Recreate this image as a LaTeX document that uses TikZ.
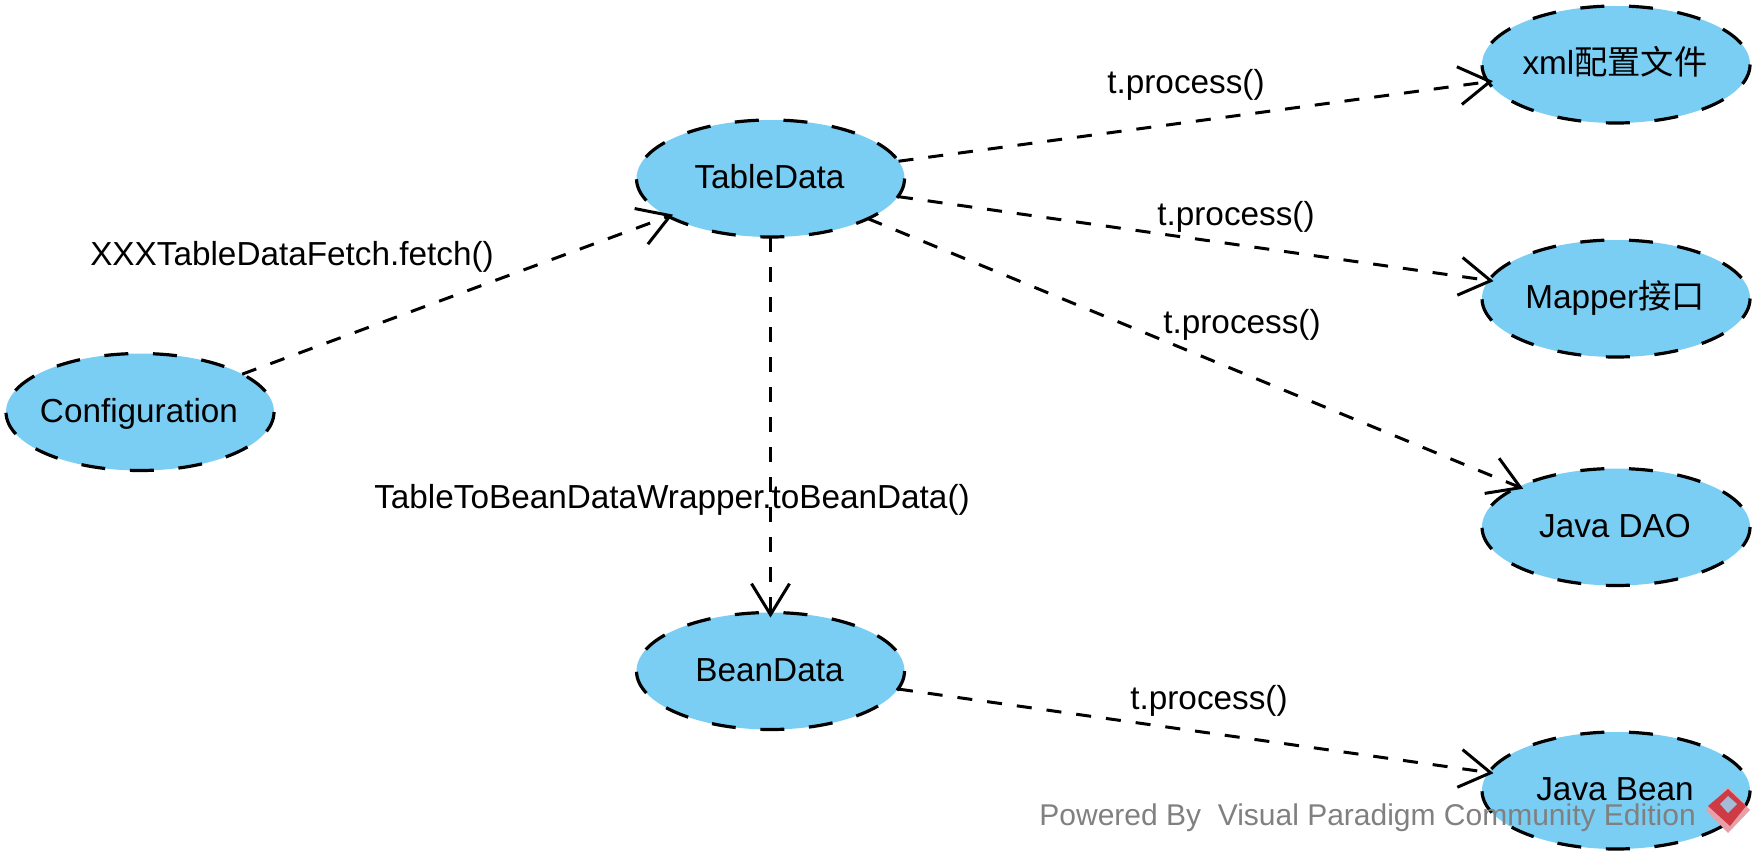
\documentclass[tikz,border=0pt]{standalone}
\usepackage{fontspec}
\setmainfont{Liberation Sans}
\newfontfamily\cjk{Noto Sans CJK SC}
\usetikzlibrary{shapes.geometric,arrows.meta}
\definecolor{ucfill}{HTML}{7ACEF4}
\definecolor{wm}{HTML}{808080}
\definecolor{logored}{HTML}{CE3B44}
\definecolor{logopale}{HTML}{E8A0A8}
\definecolor{logohole}{HTML}{A5BCD8}
\newcommand{\uctext}[1]{\makebox[0pt]{\rule[-8pt]{0pt}{36pt}\kern-2pt #1}}
\tikzset{
  x=1pt,y=-1pt,
  uc/.style={ellipse,draw=black,fill=ucfill,line width=3.2pt,inner sep=0pt,outer sep=0pt,
    minimum width=268pt,minimum height=117pt,dash pattern=on 24pt off 24.7pt,dash phase=26pt},
  dep/.style={line width=3pt,dash pattern=on 15pt off 15pt,shorten >=-5pt,
    -{Straight Barb[length=31pt,width=38pt,line width=3pt]}},
  lbl/.style={inner sep=0pt,anchor=base},
  every node/.append style={font=\fontsize{33.3pt}{36pt}\selectfont}
}
\begin{document}
\begin{tikzpicture}
\useasboundingbox (0,0) rectangle (1764,864);
\node[uc] (cfg) at (140,412) {\uctext{Configuration}};
\node[uc] (td) at (770.5,178.5) {\uctext{TableData}};
\node[uc] (bd) at (770.5,671) {\uctext{BeanData}};
\node[uc] (xml) at (1616,64.5) {\uctext{xml{\cjk 配置文件}}};
\node[uc] (map) at (1616,298.5) {\uctext{Mapper{\cjk 接口}}};
\node[uc] (dao) at (1616,527) {\uctext{Java DAO}};
\node[uc] (jb) at (1616,790.5) {\uctext{Java Bean}};
\draw[dep] (cfg) -- (td);
\draw[dep] (td) -- (xml);
\draw[dep] (td) -- (map);
\draw[dep] (td) -- (dao);
\draw[dep] (td) -- (bd);
\draw[dep] (bd) -- (jb);
\node[lbl] (l1) at (292,265) {XXXTableDataFetch.fetch()};
\node[lbl] (l2) at (672,508) {TableToBeanDataWrapper.toBeanData()};
\node[lbl] (l3) at (1186,94) {t.process()};
\node[lbl] (l4) at (1236,225) {t.process()};
\node[lbl] (l5) at (1242,333) {t.process()};
\node[lbl] (l6) at (1209,709) {t.process()};
\node[lbl,text=wm,anchor=base east,font=\fontsize{30pt}{34pt}\selectfont] (wm) at (1696,825) {Powered By\ \ Visual Paradigm Community Edition};
\fill[logopale] (1728,787) -- (1750,810) -- (1728,833) -- (1706,810) -- cycle;
\fill[logored] (1728,789) -- (1746,806) -- (1730,826) -- (1708,806) -- cycle;
\fill[logohole] (1728,796) -- (1737,804) -- (1728,813) -- (1720,804) -- cycle;
\end{tikzpicture}
\end{document}
